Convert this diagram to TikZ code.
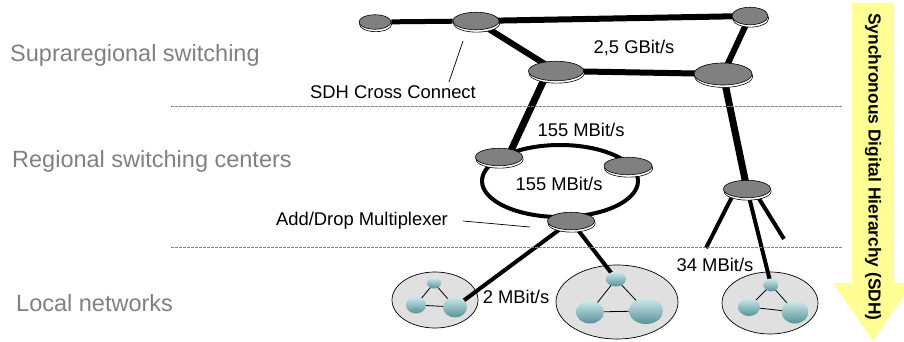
\documentclass[tikz,border=0pt]{standalone}
\usepackage{fontspec}
\setmainfont{Liberation Sans}
\usepackage{xcolor}
\definecolor{swgray}{RGB}{128,128,128}
\definecolor{netgray}{RGB}{224,224,224}
\definecolor{hostlight}{RGB}{208,234,236}
\definecolor{hostdark}{RGB}{86,146,152}
\definecolor{sdhyellow}{RGB}{255,255,150}
\definecolor{tiergray}{RGB}{128,128,128}
\usepackage{tikz}
\usetikzlibrary{shapes.geometric, shadows}

\pgfdeclarelayer{back}
\pgfdeclarelayer{wires}
\pgfsetlayers{back,wires,main}

\begin{document}
\begin{tikzpicture}[x=1pt, y=-1pt,
  sdhnode/.style={ellipse, draw=black, line width=0.6pt, fill=swgray, inner sep=0pt,
    copy shadow={shadow xshift=0.6pt, shadow yshift=-2.4pt, fill=white, draw=black, line width=0.6pt}},
  hostnode/.style={ellipse, inner sep=0pt, draw=none, top color=hostlight, bottom color=hostdark},
  netnode/.style={ellipse, draw=black, line width=0.7pt, fill=netgray, inner sep=0pt},
  ratelbl/.style={font=\fontsize{18.4}{20}\selectfont, inner sep=0pt},
  tierlbl/.style={font=\fontsize{23.5}{26}\selectfont, text=tiergray, inner sep=0pt, anchor=west},
  trunk/.style={line width=6pt},
  branch/.style={line width=4pt},
  leader/.style={line width=0.7pt},
  tierline/.style={gray, line width=0.8pt, dash pattern=on 2.5pt off 1.5pt}]

\useasboundingbox (0,0) rectangle (904,342);
\clip (0,0) rectangle (904,342);

% SDH arrow
\fill[sdhyellow] (852,3) -- (894,3) -- (894,283) -- (913,283) -- (873,341) -- (833,283) -- (852,283) -- cycle;
\node[rotate=-90, font=\bfseries\fontsize{17.4}{19}\selectfont, inner sep=0pt] (sdhlbl) at (873,167) {Synchronous Digital Hierarchy (SDH)};

% levels
\node[tierlbl] (supra) at (10,55) {Supraregional switching};
\node[tierlbl] (regio) at (12,161) {Regional switching centers};
\node[tierlbl] (local) at (16,303) {Local networks};
\draw[tierline] (171,106) -- (843,106);
\draw[tierline] (171,247) -- (843,247);

% supraregional
\node[sdhnode, minimum width=32pt, minimum height=14.5pt] (s1) at (375,22) {};
\node[sdhnode, minimum width=46pt, minimum height=17.5pt] (s2) at (476,21) {};
\node[sdhnode, minimum width=36pt, minimum height=17.5pt] (s3) at (750,16) {};
\node[sdhnode, minimum width=55pt, minimum height=19.5pt] (s4) at (556,71) {};
\node[sdhnode, minimum width=58pt, minimum height=22pt] (s5) at (723,74) {};

% regional
\node[sdhnode, minimum width=47pt, minimum height=17.5pt] (r1) at (499,157) {};
\node[sdhnode, minimum width=48pt, minimum height=17.5pt] (r2) at (628,166) {};
\node[sdhnode, minimum width=47pt, minimum height=17.5pt] (adm) at (571,221) {};
\node[sdhnode, minimum width=47pt, minimum height=17.5pt] (t1) at (747,189) {};
\coordinate (ringc) at (560,181);

% local networks
\begin{pgfonlayer}{back}
\node[netnode, minimum width=86pt, minimum height=56pt] (n1) at (435,300) {};
\node[netnode, minimum width=122pt, minimum height=74pt] (n2) at (617,302) {};
\node[netnode, minimum width=96pt, minimum height=62pt] (n3) at (770,303) {};
\end{pgfonlayer}
\node[hostnode, minimum width=14pt, minimum height=11pt] (h1a) at (434,283) {};
\node[hostnode, minimum width=20pt, minimum height=17pt] (h1b) at (416,305) {};
\node[hostnode, minimum width=24pt, minimum height=21pt] (h1c) at (455,307) {};
\node[hostnode, minimum width=20pt, minimum height=15pt] (h2a) at (616,279) {};
\node[hostnode, minimum width=28pt, minimum height=23pt] (h2b) at (590,312) {};
\node[hostnode, minimum width=34pt, minimum height=26pt] (h2c) at (646,311) {};
\node[hostnode, minimum width=15pt, minimum height=13pt] (h3a) at (771,285) {};
\node[hostnode, minimum width=22pt, minimum height=18pt] (h3b) at (749,307) {};
\node[hostnode, minimum width=27pt, minimum height=23pt] (h3c) at (795,312) {};

% labels
\node[ratelbl] (lbl25) at (634,48) {2,5 GBit/s};
\node[ratelbl] (lblcc) at (393,92) {SDH Cross Connect};
\node[ratelbl] (lbl155a) at (581,130) {155 MBit/s};
\node[ratelbl] (lbl155b) at (559,184) {155 MBit/s};
\node[ratelbl] (lbladm) at (362,221) {Add/Drop Multiplexer};
\node[ratelbl] (lbl2) at (516,297) {2 MBit/s};
\node[ratelbl] (lbl34) at (715,265) {34 MBit/s};
\coordinate (ccTop) at (463,41);
\coordinate (ccFoot) at (449,82);
\coordinate (admTip) at (530,227);
\coordinate (tLeft) at (706,248);
\coordinate (tRight) at (784,239);

% links
\begin{pgfonlayer}{wires}
\draw[line width=5pt] (s1) -- (s2);
\draw[trunk] (s2.center) -- (s3.center);
\draw[trunk] (s2.center) -- (s4.center);
\draw[trunk] (s4.center) -- (s5.center);
\draw[trunk] (s3.center) -- (s5.center);
\draw[line width=7pt] ([xshift=-8pt]s4.center) -- ([xshift=9pt]r1.center);
\draw[line width=7pt] (s5.center) -- (t1.center);
\draw[branch] (ringc) ellipse [x radius=78, y radius=36];
\draw[branch] (adm.center) -- (h1c.center);
\draw[branch] (adm.center) -- (h2a.center);
\draw[branch] ([xshift=-11pt]t1.center) -- (tLeft);
\draw[branch] (t1.center) -- (h3a.center);
\draw[branch] ([xshift=6pt]t1.center) -- (tRight);
\foreach \net in {1,2,3} {
  \draw[line width=0.8pt] (h\net a.center) -- (h\net b.center) -- (h\net c.center) -- cycle;
}
\end{pgfonlayer}
\draw[leader] (ccTop) -- (ccFoot);
\draw[leader] ([xshift=15pt]lbladm.east) -- (admTip);
\end{tikzpicture}
\end{document}
